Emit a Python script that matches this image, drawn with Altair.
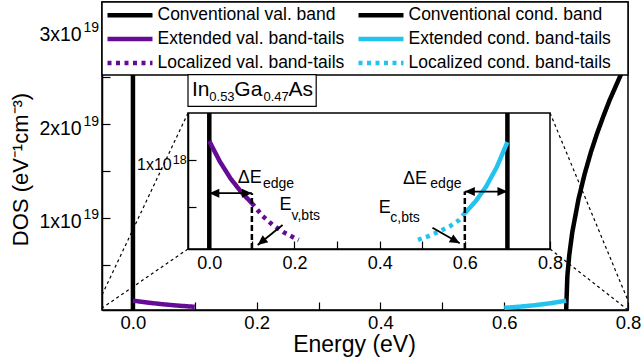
import altair as alt
import pandas as pd

FONT = "Liberation Sans"

# Series in key order (the key fills its two columns top to bottom)
VB, EXT_VB, LOC_VB = "Conventional val. band", "Extended val. band-tails", "Localized val. band-tails"
CB, EXT_CB, LOC_CB = "Conventional cond. band", "Extended cond. band-tails", "Localized cond. band-tails"
SERIES = [VB, EXT_VB, LOC_VB, CB, EXT_CB, LOC_CB]
SERIES_COLORS = ["#000000", "#650c96", "#650c96", "#000000", "#22c4ef", "#22c4ef"]
SERIES_DASHES = [[1, 0], [1, 0], [4, 4.5], [1, 0], [1, 0], [4, 4.5]]

# Energies (eV) and densities of states (eV^-1 cm^-3)
VB_EDGE_E = [0.0, 0.0]
VB_EDGE_DOS = [2e17, 3.3e19]
CB_E = [0.7, 0.702, 0.705, 0.71, 0.72, 0.73, 0.74, 0.75, 0.76, 0.77, 0.78, 0.79, 0.80]
CB_DOS = [0.0, 0.38e19, 0.60e19, 0.85e19, 1.20e19, 1.47e19, 1.70e19, 1.90e19,
          2.08e19, 2.25e19, 2.40e19, 2.55e19, 2.69e19]

EXT_VB_E = [0.0, 0.025, 0.05, 0.075, 0.1]
EXT_VB_DOS = [1.20e18, 0.98e18, 0.80e18, 0.655e18, 0.536e18]
LOC_VB_E = [0.1, 0.125, 0.15, 0.175, 0.2, 0.21]
LOC_VB_DOS = [0.536e18, 0.40e18, 0.30e18, 0.225e18, 0.165e18, 0.145e18]
EXT_CB_E = [0.6, 0.625, 0.65, 0.675, 0.7]
EXT_CB_DOS = [0.43e18, 0.554e18, 0.714e18, 0.922e18, 1.19e18]
LOC_CB_E = [0.49, 0.515, 0.54, 0.565, 0.585, 0.6]
LOC_CB_DOS = [0.145e18, 0.185e18, 0.235e18, 0.29e18, 0.35e18, 0.43e18]

# Band edges as they appear in the zoomed view
INSET_VB_E = [0.0, 0.0]
INSET_CB_E = [0.7, 0.7]
INSET_EDGE_DOS = [4.7e16, 1.5e18]

# Axis ranges and ticks
MAIN_E_RANGE = [-0.05, 0.8]
MAIN_DOS_RANGE = [2e17, 3.3e19]
INSET_DOS_RANGE = [4.7e16, 1.5e18]
E_TICKS = [0.0, 0.1, 0.2, 0.3, 0.4, 0.5, 0.6, 0.7, 0.8]
MAIN_DOS_TICKS = [5e18, 1e19, 1.5e19, 2e19, 2.5e19, 3e19]
INSET_DOS_TICKS = [5e17, 1e18]

# Tick labels with powers of ten (mantissa part and exponent part)
MAIN_DOS_LABEL_AT = [1e19, 2e19, 3e19]
MAIN_DOS_LABEL = ["1x10", "2x10", "3x10"]
MAIN_DOS_EXP = ["19", "19", "19"]
INSET_DOS_LABEL_AT = [1e18]
INSET_DOS_LABEL = ["1x10"]
INSET_DOS_EXP = ["18"]

# Key frame at the top of the main panel (main coordinates)
KEY_BOX = {"E": [-0.05], "E2": [0.8], "DOS": [2.523e19], "DOS2": [3.3e19]}

# Dashed connectors from the zoomed window to the bottom of the main panel
ZOOM_E = [0.089, 0.089, 0.674, 0.674]
ZOOM_DOS = [2.118e19, 0.67e19, 2.118e19, 0.67e19]
ZOOM_E2 = [-0.05, -0.05, 0.8, 0.8]
ZOOM_DOS2 = [0.18e19, 0.04e19, 0.12e19, 0.02e19]

# Zoomed-window annotations (zoomed coordinates)
MATERIAL_TEXT = ["In", "0.53", "Ga", "0.47", "As"]
MATERIAL_E = [-0.0407, 0.0, 0.0588, 0.1271, 0.1859]
MATERIAL_DOS = [1.678e18, 1.624e18, 1.678e18, 1.624e18, 1.678e18]
MATERIAL_SIZE = [21, 13, 21, 13, 21]
MATERIAL_BOX = {"E": [-0.05], "E2": [0.251], "DOS": [1.57e18], "DOS2": [1.91e18]}

NOTE_TEXT = ["ΔE", "edge", "ΔE", "edge", "E", "v,bts", "E", "c,bts"]
NOTE_E = [0.067, 0.126, 0.455, 0.519, 0.165, 0.193, 0.398, 0.425]
NOTE_DOS = [0.757e18, 0.70e18, 0.743e18, 0.695e18, 0.465e18, 0.36e18, 0.429e18, 0.339e18]
NOTE_SIZE = [18, 14, 18, 14, 18, 14, 18, 14]

EDGE_MARK_E = [0.1, 0.6]
EDGE_MARK_LOW = [4.7e16, 4.7e16]
EDGE_MARK_HIGH = [0.643e18, 0.66e18]

SHAFT_E = [0.0, 0.6, 0.172, 0.524]
SHAFT_DOS = [0.643e18, 0.66e18, 0.304e18, 0.275e18]
SHAFT_E2 = [0.1, 0.7, 0.1136, 0.588]
SHAFT_DOS2 = [0.643e18, 0.66e18, 0.0898e18, 0.108e18]

HEAD_E = [0.0, 0.1, 0.6, 0.7, 0.1136, 0.588]
HEAD_DOS = [0.643e18, 0.643e18, 0.66e18, 0.66e18, 0.0898e18, 0.108e18]
HEAD_ANGLE = [180, 0, 180, 0, 141, 30]
ARROW_PATH = "M0,0L-1,-0.45L-1,0.45Z"


def series_frame(name, energies, dos):
    return pd.DataFrame({"E": energies, "DOS": dos, "series": name,
                         "i": list(range(len(energies)))})


main_curves = pd.concat([
    series_frame(VB, VB_EDGE_E, VB_EDGE_DOS),
    series_frame(CB, CB_E, CB_DOS),
    series_frame(EXT_VB, EXT_VB_E, EXT_VB_DOS),
    series_frame(EXT_CB, EXT_CB_E, EXT_CB_DOS),
], ignore_index=True)

inset_curves = pd.concat([
    series_frame(VB, INSET_VB_E, INSET_EDGE_DOS),
    series_frame(CB, INSET_CB_E, INSET_EDGE_DOS),
    series_frame(EXT_VB, EXT_VB_E, EXT_VB_DOS),
    series_frame(EXT_CB, EXT_CB_E, EXT_CB_DOS),
    series_frame(LOC_VB, LOC_VB_E, LOC_VB_DOS),
    series_frame(LOC_CB, LOC_CB_E, LOC_CB_DOS),
], ignore_index=True)

# ---- scales and axes -------------------------------------------------------
W, H = 526, 308
MAIN_X_SCALE = alt.Scale(domain=MAIN_E_RANGE, nice=False, zero=False)
MAIN_Y_SCALE = alt.Scale(domain=MAIN_DOS_RANGE, nice=False, zero=False)
INSET_X_SCALE = alt.Scale(domain=MAIN_E_RANGE, range=[86, 448], nice=False, zero=False)
INSET_Y_SCALE = alt.Scale(domain=INSET_DOS_RANGE, range=[247, 111], nice=False, zero=False)

axis_style = dict(grid=False, domainColor="black", domainWidth=1.5, tickColor="black",
                  tickWidth=1.2, tickSize={"expr": "-8"}, labelColor="black",
                  labelFont=FONT, titleFont=FONT, titleColor="black",
                  titleFontWeight="normal", labelFlush=False)

EVEN_TENTHS = "round(datum.value * 10) % 2 == 0 ? format(datum.value, '.1f') : ''"

MAIN_X_AXIS = alt.Axis(
    orient="bottom", values=E_TICKS, labelExpr=EVEN_TENTHS,
    labelFontSize=18.5, labelPadding=11, title="Energy (eV)", titleFontSize=23,
    titleX=252, titleY=41, titleBaseline="alphabetic", titleAlign="center",
    zindex=0, **axis_style)
MAIN_Y_AXIS = alt.Axis(
    orient="left", values=MAIN_DOS_TICKS, labels=False,
    title="DOS (eV⁻¹cm⁻³)", titleFontSize=22,
    titleX=-75, titleY=167, titleAngle=270, titleBaseline="alphabetic",
    titleAlign="center", zindex=0, **axis_style)
INSET_X_AXIS = alt.Axis(
    orient="bottom", offset=-61, values=E_TICKS, labelExpr=EVEN_TENTHS,
    labelFontSize=18, labelPadding=13, title=None, zindex=1, **axis_style)
INSET_Y_AXIS = alt.Axis(
    orient="left", offset=-86, values=INSET_DOS_TICKS, labels=False,
    title=None, zindex=1, **axis_style)


def mx(field):
    return alt.X(f"{field}:Q", scale=MAIN_X_SCALE, axis=MAIN_X_AXIS)


def my(field):
    return alt.Y(f"{field}:Q", scale=MAIN_Y_SCALE, axis=MAIN_Y_AXIS)


def ix(field):
    return alt.X(f"{field}:Q", scale=INSET_X_SCALE, axis=INSET_X_AXIS)


def iy(field):
    return alt.Y(f"{field}:Q", scale=INSET_Y_SCALE, axis=INSET_Y_AXIS)


KEY = alt.Legend(
    orient="none", legendX=3, legendY=1.25, columns=2, columnPadding=11,
    rowPadding=0, padding=0, symbolType="stroke", symbolSize=2025,
    symbolStrokeWidth=4.5, labelFont=FONT, labelFontSize=17.5,
    labelColor="black", labelOffset=2.5, labelLimit=400, clipHeight=23.5)

COLOR = alt.Color("series:N", title=None, legend=KEY,
                  scale=alt.Scale(domain=SERIES, range=SERIES_COLORS))
DASH = alt.StrokeDash("series:N", title=None, legend=KEY,
                      scale=alt.Scale(domain=SERIES, range=SERIES_DASHES))


def power_labels(xenc, yenc, at, mantissa, exponent, base_size, exp_size,
                 base_dx, base_dy, exp_dx, exp_dy):
    df = pd.DataFrame({"E": [MAIN_E_RANGE[0]] * len(at), "DOS": at,
                       "m": mantissa, "p": exponent})
    base = alt.Chart(df).mark_text(
        align="right", baseline="alphabetic", font=FONT, color="black",
        fontSize=base_size, dx=base_dx, dy=base_dy).encode(x=xenc, y=yenc, text="m:N")
    sup = alt.Chart(df).mark_text(
        align="right", baseline="alphabetic", font=FONT, color="black",
        fontSize=exp_size, dx=exp_dx, dy=exp_dy).encode(x=xenc, y=yenc, text="p:N")
    return [base, sup]


# ---- main panel ------------------------------------------------------------
main_lines = alt.Chart(main_curves).mark_line(strokeWidth=4.5, clip=True).encode(
    x=mx("E"), y=my("DOS"), color=COLOR, strokeDash=DASH, order=alt.Order("i:Q"))

zoom_lines = alt.Chart(pd.DataFrame({"E": ZOOM_E, "DOS": ZOOM_DOS, "E2": ZOOM_E2,
                                     "DOS2": ZOOM_DOS2})).mark_rule(
    color="black", strokeWidth=1.2, strokeDash=[3, 3]).encode(
    x=mx("E"), y=my("DOS"), x2=alt.X2("E2"), y2=alt.Y2("DOS2"))

key_box = alt.Chart(pd.DataFrame(KEY_BOX)).mark_rect(
    fill="white", stroke="black", strokeWidth=1.5).encode(
    x=mx("E"), x2=alt.X2("E2"), y=my("DOS"), y2=alt.Y2("DOS2"))

main_dos_labels = power_labels(mx("E"), my("DOS"), MAIN_DOS_LABEL_AT, MAIN_DOS_LABEL,
                               MAIN_DOS_EXP, 19.5, 14, -20.3, 10.5, -3, 1.5)

main = alt.layer(main_lines, zoom_lines, key_box, *main_dos_labels)

# ---- zoomed panel ----------------------------------------------------------
inset_box = alt.Chart(pd.DataFrame({"E": [MAIN_E_RANGE[0]], "E2": [MAIN_E_RANGE[1]],
                                    "DOS": [INSET_DOS_RANGE[0]],
                                    "DOS2": [INSET_DOS_RANGE[1]]})).mark_rect(
    fill="white", stroke="black", strokeWidth=1.5).encode(
    x=ix("E"), x2=alt.X2("E2"), y=iy("DOS"), y2=alt.Y2("DOS2"))

material_box = alt.Chart(pd.DataFrame(MATERIAL_BOX)).mark_rect(
    fill="white", stroke="black", strokeWidth=1.2).encode(
    x=ix("E"), x2=alt.X2("E2"), y=iy("DOS"), y2=alt.Y2("DOS2"))

material_text = alt.Chart(pd.DataFrame({"t": MATERIAL_TEXT, "E": MATERIAL_E,
                                        "DOS": MATERIAL_DOS, "s": MATERIAL_SIZE})).mark_text(
    align="left", baseline="alphabetic", font=FONT, color="black").encode(
    x=ix("E"), y=iy("DOS"), text="t:N", size=alt.Size("s:Q", scale=None))

inset_lines = alt.Chart(inset_curves).mark_line(strokeWidth=4.5).encode(
    x=ix("E"), y=iy("DOS"), color=COLOR, strokeDash=DASH, order=alt.Order("i:Q"))

edge_marks = alt.Chart(pd.DataFrame({"E": EDGE_MARK_E, "DOS": EDGE_MARK_LOW,
                                     "DOS2": EDGE_MARK_HIGH})).mark_rule(
    color="black", strokeWidth=2.5, strokeDash=[6, 3]).encode(
    x=ix("E"), y=iy("DOS"), y2=alt.Y2("DOS2"))

shafts = alt.Chart(pd.DataFrame({"E": SHAFT_E, "DOS": SHAFT_DOS, "E2": SHAFT_E2,
                                 "DOS2": SHAFT_DOS2})).mark_rule(
    color="black", strokeWidth=1.8).encode(
    x=ix("E"), y=iy("DOS"), x2=alt.X2("E2"), y2=alt.Y2("DOS2"))

heads = alt.Chart(pd.DataFrame({"E": HEAD_E, "DOS": HEAD_DOS, "a": HEAD_ANGLE})).mark_point(
    shape=ARROW_PATH, size=400, filled=True, color="black", opacity=1,
    strokeWidth=0).encode(
    x=ix("E"), y=iy("DOS"), angle=alt.Angle("a:Q", scale=None))

notes = alt.Chart(pd.DataFrame({"t": NOTE_TEXT, "E": NOTE_E, "DOS": NOTE_DOS,
                                "s": NOTE_SIZE})).mark_text(
    align="left", baseline="alphabetic", font=FONT, color="black").encode(
    x=ix("E"), y=iy("DOS"), text="t:N", size=alt.Size("s:Q", scale=None))

inset_dos_labels = power_labels(ix("E"), iy("DOS"), INSET_DOS_LABEL_AT, INSET_DOS_LABEL,
                                INSET_DOS_EXP, 16, 12.5, -16.3, 10, -1.3, 4.3)

inset = alt.layer(inset_box, material_box, material_text, inset_lines, edge_marks,
                  shafts, heads, notes, *inset_dos_labels)

chart = alt.layer(main, inset).resolve_scale(
    x="independent", y="independent"
).properties(
    width=W, height=H, autosize="none",
    padding={"left": 102, "top": 2, "right": 14, "bottom": 50},
).configure(background="white").configure_view(stroke="black", strokeWidth=1.5)

chart.save("out.html", embed_options={"renderer": "svg", "actions": False})
